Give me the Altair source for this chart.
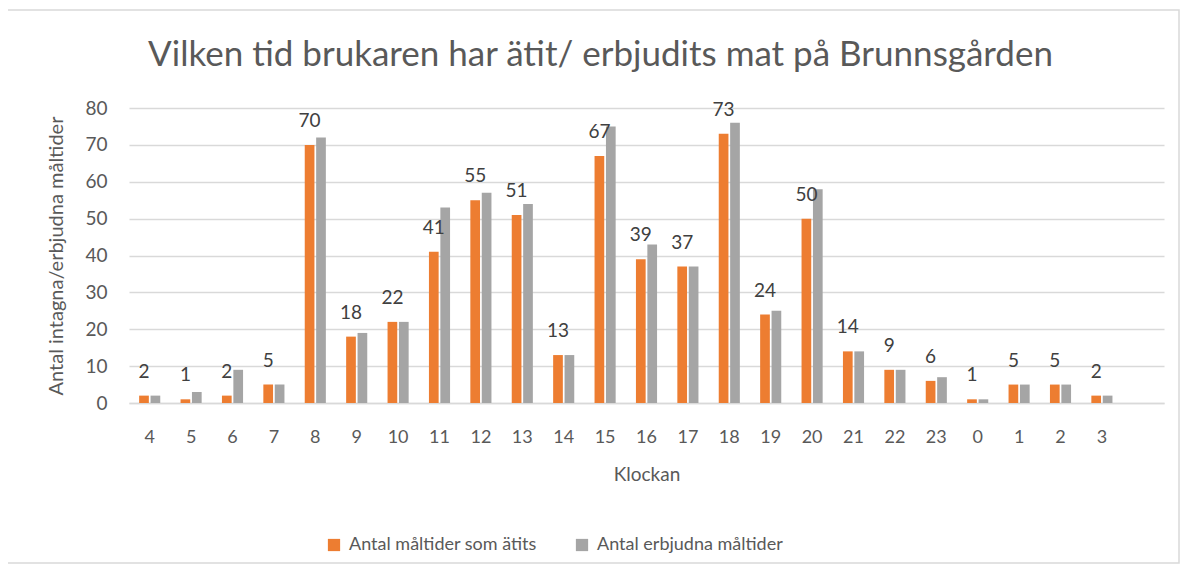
import altair as alt
import pandas as pd

hours = ["4", "5", "6", "7", "8", "9", "10", "11", "12", "13", "14", "15",
         "16", "17", "18", "19", "20", "21", "22", "23", "0", "1", "2", "3"]
eaten = [2, 1, 2, 5, 70, 18, 22, 41, 55, 51, 13, 67, 39, 37, 73, 24, 50, 14, 9, 6, 1, 5, 5, 2]
offered = [2, 3, 9, 5, 72, 19, 22, 53, 57, 54, 13, 75, 43, 37, 76, 25, 58, 14, 9, 7, 1, 5, 5, 2]
yticks = [0, 10, 20, 30, 40, 50, 60, 70, 80]

s1 = "Antal måltider som ätits"
s2 = "Antal erbjudna måltider"

rows = []
for h, a, b in zip(hours, eaten, offered):
    rows.append({"Klockan": h, "serie": s1, "v": a})
    rows.append({"Klockan": h, "serie": s2, "v": b})
df = pd.DataFrame(rows)

FONT = "Lato"
domain_x = hours + [" "]

xenc = alt.X("Klockan:N", sort=domain_x,
             scale=alt.Scale(domain=domain_x, paddingInner=0.49, paddingOuter=0.245),
             axis=alt.Axis(title="Klockan", labelAngle=0, labelFontSize=18, labelColor="#595959",
                           titleFontSize=19, titleColor="#595959", titleFontWeight="normal",
                           titlePadding=19, labelPadding=25, ticks=False, domain=True,
                           domainColor="#d9d9d9", domainWidth=1.5, labelFont=FONT, titleFont=FONT))

yenc = alt.Y("v:Q", scale=alt.Scale(domain=[0, 80], nice=False),
             axis=alt.Axis(title="Antal intagna/erbjudna måltider", values=yticks,
                           labelOverlap=False,
                           labelFontSize=19, labelColor="#595959", titleFontSize=20,
                           titleColor="#595959", titleFontWeight="normal", ticks=False, domain=False,
                           gridColor="#d9d9d9", gridWidth=1.5, labelPadding=22, titlePadding=18,
                           labelFont=FONT, titleFont=FONT))

xoff = alt.XOffset("serie:N", sort=[s1, s2], scale=alt.Scale(domain=[s1, s2], paddingInner=0.15))

color = alt.Color("serie:N", scale=alt.Scale(domain=[s1, s2], range=["#ED7D31", "#A5A5A5"]),
                  legend=alt.Legend(title=None, orient="none", direction="horizontal",
                                    legendX=196, legendY=428, symbolType="square", symbolSize=150,
                                    labelFontSize=18, labelColor="#595959", labelFont=FONT,
                                    labelLimit=400, symbolStrokeWidth=0, columnPadding=36,
                                    labelOffset=6))

bars = alt.Chart(df).mark_bar().encode(x=xenc, xOffset=xoff, y=yenc, color=color)

labels = alt.Chart(df).transform_filter(alt.datum.serie == s1).mark_text(
    fontSize=19, color="#404040", dy=-18, baseline="alphabetic", font=FONT
).encode(x=xenc, xOffset=xoff, y=yenc, text=alt.Text("v:Q"))

frame = alt.Chart(pd.DataFrame({"k": [0]})).mark_rect(
    fill=None, stroke="#d9d9d9", strokeWidth=1.5
).encode(x=alt.value(-126), x2=alt.value(1050), y=alt.value(-98), y2=alt.value(455))

chart = alt.layer(frame, bars, labels).properties(
    width=1035, height=295,
    autosize=alt.AutoSizeParams(type="none"),
    padding={"left": 121, "top": 100, "right": 16, "bottom": 165},
    title=alt.Title("Vilken tid brukaren har ätit/ erbjudits mat på Brunnsgården",
                    fontSize=35, font=FONT, color="#595959", fontWeight="normal",
                    anchor="middle", frame="group", dx=-46, offset=-64),
).configure_view(stroke=None)

chart.save("out.html", embed_options={"renderer": "svg", "actions": False})
